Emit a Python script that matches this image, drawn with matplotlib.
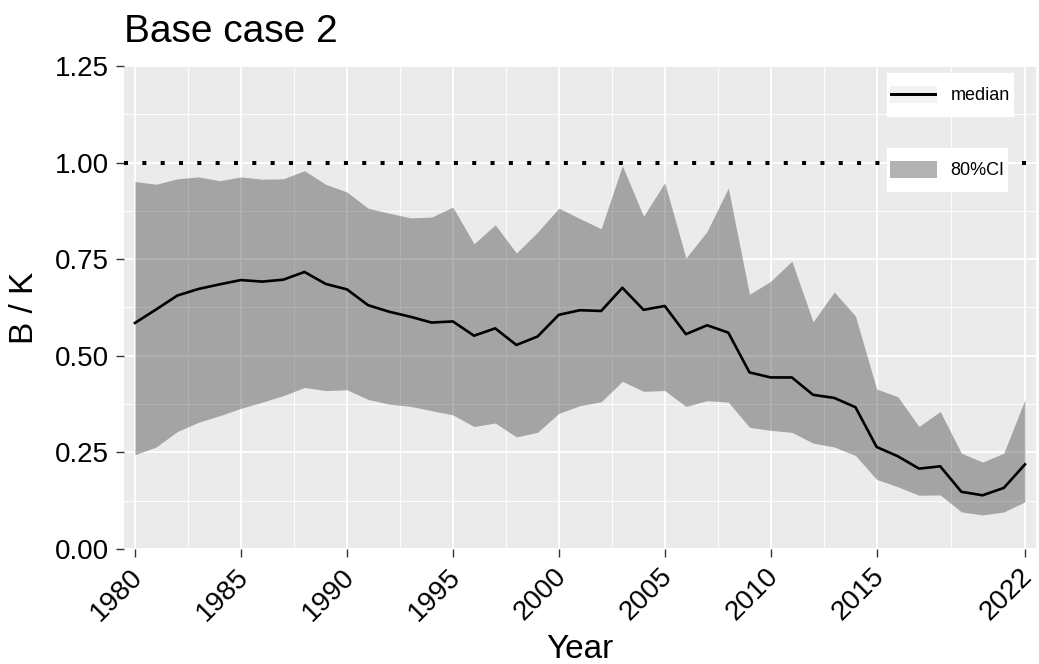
import matplotlib
matplotlib.use("Agg")
import matplotlib.pyplot as plt
import matplotlib.transforms as mtransforms
from matplotlib.patches import Rectangle
from matplotlib.legend_handler import HandlerPatch, HandlerTuple

plt.rcParams["font.family"] = ["Liberation Sans", "DejaVu Sans"]

years = list(range(1980, 2023))
median = [0.585, 0.620, 0.656, 0.673, 0.685, 0.696, 0.692, 0.697, 0.717, 0.686,
          0.672, 0.631, 0.614, 0.601, 0.586, 0.589, 0.552, 0.571, 0.528, 0.550,
          0.606, 0.618, 0.616, 0.676, 0.619, 0.629, 0.556, 0.579, 0.560, 0.457,
          0.444, 0.444, 0.399, 0.391, 0.367, 0.264, 0.240, 0.208, 0.214, 0.148,
          0.139, 0.158, 0.219]
ci_upper = [0.951, 0.944, 0.958, 0.963, 0.953, 0.963, 0.957, 0.958, 0.979, 0.944,
            0.924, 0.882, 0.869, 0.857, 0.859, 0.885, 0.790, 0.839, 0.766, 0.820,
            0.882, 0.855, 0.829, 0.992, 0.861, 0.948, 0.753, 0.822, 0.934, 0.659,
            0.693, 0.745, 0.588, 0.665, 0.603, 0.414, 0.394, 0.317, 0.356, 0.248,
            0.225, 0.248, 0.387]
ci_lower = [0.244, 0.264, 0.304, 0.328, 0.345, 0.364, 0.380, 0.397, 0.418, 0.410,
            0.412, 0.387, 0.375, 0.369, 0.358, 0.347, 0.317, 0.326, 0.290, 0.302,
            0.351, 0.371, 0.381, 0.434, 0.408, 0.410, 0.369, 0.384, 0.380, 0.315,
            0.307, 0.302, 0.274, 0.264, 0.242, 0.180, 0.161, 0.139, 0.140, 0.096,
            0.088, 0.096, 0.122]
reference_level = 1.0

x_breaks = [1980, 1985, 1990, 1995, 2000, 2005, 2010, 2015, 2022]
x_minor = [1982.5, 1987.5, 1992.5, 1997.5, 2002.5, 2007.5, 2012.5, 2018.5]
y_breaks = [0.0, 0.25, 0.50, 0.75, 1.00, 1.25]
y_minor = [0.125, 0.375, 0.625, 0.875, 1.125]

MEDIAN_LW = 1.9

fig = plt.figure(figsize=(10.39, 6.64), dpi=100)
ax = fig.add_axes([0.1193, 0.1732, 0.8778, 0.7274])

# ggplot-like grey panel
ax.set_facecolor("#EBEBEB")
for s in ax.spines.values():
    s.set_visible(False)
for yv in y_breaks:
    ax.axhline(yv, color="white", lw=1.3, zorder=0.5)
for yv in y_minor:
    ax.axhline(yv, color="white", lw=0.65, zorder=0.5)
for xv in x_breaks:
    ax.axvline(xv, color="white", lw=1.3, zorder=0.5)
for xv in x_minor:
    ax.axvline(xv, color="white", lw=0.65, zorder=0.5)

ax.fill_between(years, ci_lower, ci_upper, color="black", alpha=0.3,
                lw=0, zorder=1)
ax.plot(years, median, color="black", lw=MEDIAN_LW, zorder=2)
ax.axhline(reference_level, color="black", lw=2.9, linestyle=(0, (1, 3.55)),
           dash_capstyle="butt", zorder=3)

ax.set_xlim(1980 - 0.52, 2022 + 0.52)
ax.set_ylim(0, 1.25)
ax.set_xticks(x_breaks)
ax.set_xticklabels([str(v) for v in x_breaks])
ax.set_yticks(y_breaks)
ax.set_yticklabels([f"{v:.2f}" for v in y_breaks])
ax.tick_params(axis="both", length=5.5, width=1.0, color="#333333",
               labelsize=20, labelcolor="black", pad=5)
# rotated year labels, nudged left so the last one stays inside the figure
nudge = mtransforms.ScaledTranslation(-4 / 72, 0, fig.dpi_scale_trans)
for lab in ax.get_xticklabels():
    lab.set_rotation(45)
    lab.set_ha("right")
    lab.set_va("top")
    lab.set_rotation_mode("anchor")
    lab.set_transform(lab.get_transform() + nudge)

ax.set_xlabel("Year", fontsize=24, labelpad=6)
ax.set_ylabel("B / K", fontsize=24, labelpad=11)
ax.set_title("Base case 2", loc="left", fontsize=28, pad=17)


def centered_rect(rel_height=None, abs_height=None):
    """Legend key drawn as a rectangle centred in the handle box."""
    def make(legend, orig_handle, xdescent, ydescent, width, height, fontsize):
        h = abs_height if abs_height is not None else rel_height * fontsize
        return Rectangle((-xdescent, -ydescent + (height - h) / 2), width, h)
    return make


key_bg = Rectangle((0, 0), 1, 1, facecolor="#F2F2F2", edgecolor="none")
line_key = Rectangle((0, 0), 1, 1, facecolor="black", edgecolor="none")
ci_key = Rectangle((0, 0), 1, 1, facecolor="black", alpha=0.3, edgecolor="none")

leg_kw = dict(loc="upper left", fontsize=13, frameon=True, fancybox=False,
              framealpha=1, edgecolor="white", facecolor="white",
              borderpad=0.15, handleheight=2.8, handlelength=2.6,
              handletextpad=0.78, borderaxespad=0)

leg1 = ax.legend([(key_bg, line_key)], ["median"],
                 bbox_to_anchor=(0.8366, 0.9855),
                 handler_map={tuple: HandlerTuple(ndivide=1),
                              key_bg: HandlerPatch(patch_func=centered_rect(0.95)),
                              line_key: HandlerPatch(
                                  patch_func=centered_rect(abs_height=MEDIAN_LW))},
                 **leg_kw)
leg1.set_zorder(5)
ax.add_artist(leg1)
leg2 = ax.legend([ci_key], ["80%CI"], bbox_to_anchor=(0.8366, 0.8302),
                 handler_map={ci_key: HandlerPatch(patch_func=centered_rect(0.95))},
                 **leg_kw)
leg2.set_zorder(5)

fig.savefig("out.png", dpi=100)
